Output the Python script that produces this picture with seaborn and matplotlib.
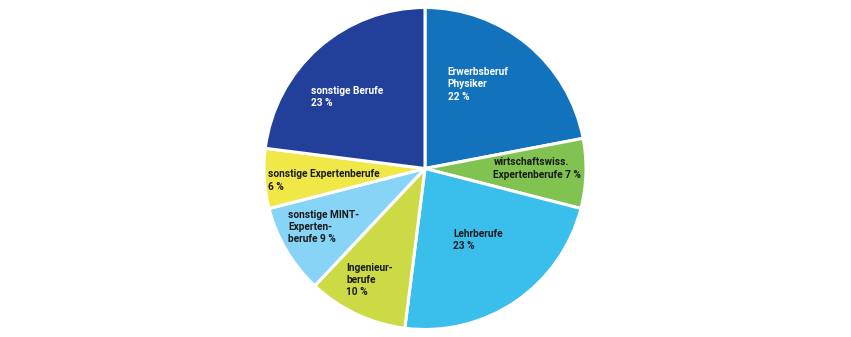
import matplotlib
matplotlib.use("Agg")
import matplotlib.pyplot as plt
import seaborn as sns

categories = [
    "Erwerbsberuf\nPhysiker",
    "wirtschaftswiss.\nExpertenberufe",
    "Lehrberufe",
    "Ingenieur-\nberufe",
    "sonstige MINT-\nExperten-\nberufe",
    "sonstige Expertenberufe",
    "sonstige Berufe",
]
shares = [22, 7, 23, 10, 9, 6, 23]
# how the percentage is attached to each name: new line or same line
pct_sep = ["\n", " ", "\n", "\n", " ", "\n", "\n"]
colors = ["#1272BB", "#80C350", "#3ABEEC", "#CCDB45", "#87D4F6", "#EFE847", "#22409A"]
text_colors = ["white", "#1a1a1a", "#1a1a1a", "#1a1a1a", "#1a1a1a", "#1a1a1a", "white"]
# label anchors (upper-left corner) in pie units, radius = 1
label_pos = [(0.14, 0.63), (0.425, 0.07), (0.175, -0.375), (-0.49, -0.585),
             (-0.85, -0.255), (-0.975, -0.005), (-0.71, 0.515)]

sns.set_theme(style="white")
plt.rcParams["font.family"] = ["Roboto", "DejaVu Sans"]

fig = plt.figure(figsize=(8.51, 3.37), dpi=100)
# axes spanning the pie: center (425,168) px, radius ~160 px
W, H = 851, 337
cx, cy, r = 425, 168.5, 161
ax = fig.add_axes([(cx - r) / W, (H - cy - r) / H, 2 * r / W, 2 * r / H])

ax.pie(shares, colors=colors, startangle=90, counterclock=False,
       wedgeprops=dict(edgecolor="white", linewidth=2.2), radius=1)
ax.set_xlim(-1, 1)
ax.set_ylim(-1, 1)
ax.set_aspect("equal")
ax.axis("off")

for name, val, sep, tc, (x, y) in zip(categories, shares, pct_sep, text_colors, label_pos):
    ax.text(x, y, f"{name}{sep}{val} %", ha="left", va="top", color=tc,
            fontsize=7.3, fontweight="bold", linespacing=1.3)

fig.savefig("out.png", dpi=100)
